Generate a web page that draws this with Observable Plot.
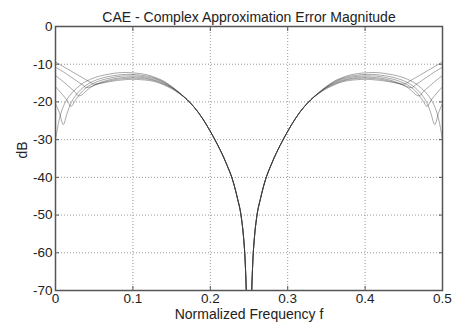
<!DOCTYPE html>
<html><head><meta charset="utf-8">
<script src="https://cdn.jsdelivr.net/npm/d3@7"></script>
<script src="https://cdn.jsdelivr.net/npm/@observablehq/plot@0.6"></script>
<style>body{margin:0;background:#fff;} svg{display:block;}</style>
</head><body><div id="chart"></div>
<script>
const title = "CAE - Complex Approximation Error Magnitude";
const xLabel = "Normalized Frequency f";
const yLabel = "dB";
const xTicks = [0, 0.1, 0.2, 0.3, 0.4, 0.5];
const yTicks = [0, -10, -20, -30, -40, -50, -60, -70];

// left half frequency grid (right half is the mirror image about f = 0.25)
const freqHead = [0, 0.005, 0.01, 0.015, 0.02, 0.025, 0.03, 0.035, 0.04, 0.045, 0.05,
                  0.06, 0.07, 0.08, 0.09, 0.1, 0.11, 0.12, 0.13, 0.14, 0.15, 0.16];
const freqTail = [0.17, 0.18, 0.19, 0.2, 0.21, 0.22, 0.23, 0.235, 0.24, 0.243, 0.245, 0.2465, 0.248];
const tailDb   = [-19.4, -21.6, -24.4, -27.8, -31.6, -36.0, -41.5, -45.5, -50.5, -56, -62, -70, -80];

const curve1 = [-30, -24.5, -21.3, -19.3, -17.9, -16.8, -15.9, -15.1, -14.5, -14.0, -13.6,
                -13.0, -12.6, -12.3, -12.2, -12.3, -12.5, -12.9, -13.6, -14.5, -15.9, -17.5];
const curve2 = [-20.5, -22.8, -26.0, -23.0, -20.3, -18.6, -17.3, -16.3, -15.5, -14.9, -14.4,
                -13.7, -13.2, -12.9, -12.7, -12.7, -12.9, -13.2, -13.8, -14.7, -16.0, -17.6];
const curve3 = [-16, -17.1, -18.3, -19.6, -21.2, -19.8, -18.3, -17.1, -16.2, -15.5, -15.0,
                -14.2, -13.7, -13.3, -13.1, -13.1, -13.2, -13.5, -14.0, -14.9, -16.1, -17.6];
const curve4 = [-13, -13.8, -14.6, -15.5, -16.4, -17.3, -18.4, -18.0, -17.0, -16.2, -15.6,
                -14.7, -14.1, -13.7, -13.5, -13.4, -13.5, -13.8, -14.3, -15.1, -16.2, -17.7];
const curve5 = [-10.8, -11.4, -12.0, -12.7, -13.4, -14.1, -14.8, -15.5, -16.2, -16.0, -15.6,
                -14.9, -14.4, -14.0, -13.8, -13.7, -13.8, -14.0, -14.5, -15.3, -16.3, -17.7];
const curve6 = [-9.4, -10.0, -10.6, -11.2, -11.8, -12.4, -13.0, -13.6, -14.2, -14.8, -15.3,
                -15.0, -14.6, -14.3, -14.1, -14.0, -14.1, -14.3, -14.7, -15.5, -16.5, -17.8];

const freqLeft = freqHead.concat(freqTail);
const series = [curve1, curve2, curve3, curve4, curve5, curve6].flatMap((head, i) => {
  const vals = head.concat(tailDb);
  const left = freqLeft.map((f, j) => ({curve: i, f, v: vals[j]}));
  const right = freqLeft.map((f, j) => ({curve: i, f: 0.5 - f, v: vals[j]})).reverse();
  return left.concat(right);
});

const fmt = d => String(d);
const chart = Plot.plot({
  width: 453, height: 327,
  marginLeft: 55, marginRight: 11, marginTop: 26, marginBottom: 37,
  x: {domain: [0, 0.5]},
  y: {domain: [-70, 0]},
  style: {fontFamily: "'Liberation Sans', Arial, sans-serif", fontSize: "13px", color: "#222", background: "#fff"},
  marks: [
    Plot.gridX(xTicks, {stroke: "#999", strokeOpacity: 1, strokeDasharray: "1,2"}),
    Plot.gridY(yTicks, {stroke: "#999", strokeOpacity: 1, strokeDasharray: "1,2"}),
    Plot.line(series, {x: "f", y: "v", z: "curve", stroke: "#333", strokeOpacity: 0.42, strokeWidth: 1, curve: "monotone-x", clip: true}),
    Plot.frame({stroke: "#555", strokeWidth: 1.5}),
    Plot.axisX(xTicks, {anchor: "bottom", tickSize: 4, dy: -4, text: null, label: null, stroke: "#555"}),
    Plot.axisX(xTicks, {anchor: "top", tickSize: 4, dy: 4, text: null, label: null, stroke: "#555"}),
    Plot.axisY(yTicks, {anchor: "left", tickSize: 4, dx: 4, text: null, label: null, stroke: "#555"}),
    Plot.axisY(yTicks, {anchor: "right", tickSize: 4, dx: -4, text: null, label: null, stroke: "#555"}),
    Plot.axisX(xTicks, {anchor: "bottom", tickSize: 0, tickPadding: 3, tickFormat: fmt, label: null, fill: "#222", fontSize: 13.5}),
    Plot.axisY(yTicks, {anchor: "left", tickSize: 0, tickPadding: 3, tickFormat: fmt, label: null, fill: "#222", fontSize: 13.5}),
    Plot.text([title], {frameAnchor: "top", dy: -14, fontSize: 14, fill: "#222"}),
    Plot.text([xLabel], {frameAnchor: "bottom", dy: 28.5, fontSize: 14, fill: "#222"}),
    Plot.text([yLabel], {frameAnchor: "left", dx: -33, rotate: -90, fontSize: 14, fill: "#222"})
  ]
});
document.getElementById("chart").appendChild(chart);
</script>
</body></html>
